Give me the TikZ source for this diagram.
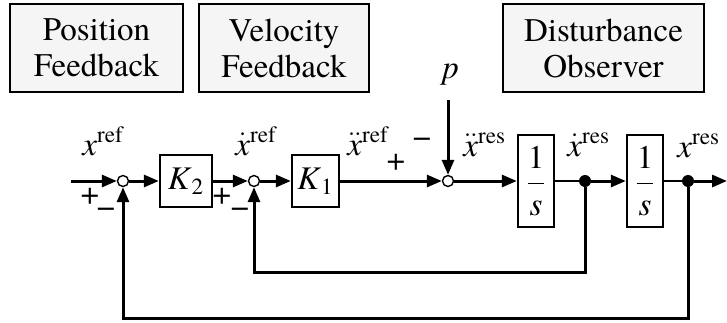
\documentclass[tikz,border=0pt]{standalone}
\usepackage{fontspec}
\setmainfont{texgyretermes}[Extension=.otf, UprightFont=*-regular, ItalicFont=*-italic, BoldFont=*-bold, BoldItalicFont=*-bolditalic]
\usetikzlibrary{arrows.meta}
\newcommand{\vel}{$\dot{\mbox{\textit{x}}}$}
\newcommand{\acel}{$\ddot{\mbox{\textit{x}}}$}
\begin{document}
\begin{tikzpicture}[x=0.5pt, y=-0.5pt,
    every node/.style={font=\fontsize{16.5}{18}\selectfont},
    caja/.style={draw, line width=0.6pt, fill=gray!8, minimum height=44pt, align=center},
    bloque/.style={draw, line width=1.2pt, fill=white, inner sep=0pt},
    suma/.style={circle, draw, line width=0.7pt, fill=white, inner sep=0pt, minimum size=5.5pt},
    nodo/.style={circle, fill=black, inner sep=0pt, minimum size=6pt},
    senal/.style={line width=1.5pt, -{Triangle[length=7.5pt,width=6pt]}},
    linea/.style={line width=1.1pt},
    etiqueta/.style={anchor=base west, inner sep=0pt},
    signo/.style={inner sep=0pt}
]
\useasboundingbox (0,0) rectangle (727,322);

% bloques superiores
\node[caja, minimum width=86.5pt] (posfb) at (96.5,48) {Position\\Feedback};
\node[caja, minimum width=85pt] (velfb) at (284,48) {Velocity\\Feedback};
\node[caja, minimum width=100.5pt] (dob) at (603.5,48) {Disturbance\\Observer};

% lazo principal
\coordinate (entrada) at (71,181);
\node[suma] (s1) at (123,181) {};
\node[bloque, minimum width=26pt, minimum height=26pt] (k2) at (186,181) {\textit{K}\textsubscript{2}};
\node[suma] (s2) at (254,181) {};
\node[bloque, minimum width=23.5pt, minimum height=26pt] (k1) at (315.5,181) {\textit{K}\textsubscript{1}};
\node[suma] (s3) at (448,181) {};
\node[bloque, minimum width=18pt, minimum height=46pt] (int1) at (536,181) {$\displaystyle\frac{\mbox{1}}{\mbox{\textit{s}}}$};
\node[nodo] (d1) at (585,181) {};
\node[bloque, minimum width=18pt, minimum height=46pt] (int2) at (645,181) {$\displaystyle\frac{\mbox{1}}{\mbox{\textit{s}}}$};
\node[nodo] (d2) at (688,181) {};
\coordinate (salida) at (727,181);
\coordinate (pert) at (448,100);

\draw[senal] (entrada) -- (s1);
\draw[senal] (s1) -- (k2);
\draw[senal] (k2) -- (s2);
\draw[senal] (s2) -- (k1);
\draw[senal] (k1) -- (s3);
\draw[senal] (pert) -- (s3);
\draw[senal] (s3) -- (int1);
\draw[linea] (int1) -- (d1);
\draw[senal] (d1) -- (int2);
\draw[linea] (int2) -- (d2);
\draw[senal] (d2) -- (salida);

% realimentaciones
\draw[senal] (d1) -- ++(0,91) -| (s2);
\draw[senal] (d2) -- ++(0,137) -| (s1);

% etiquetas
\node[etiqueta] (lxref) at (82,155) {\textit{x}\textsuperscript{ref}};
\node[etiqueta] (lvref) at (235,155) {\vel\textsuperscript{ref}};
\node[etiqueta] (laref) at (347,155) {\acel\textsuperscript{ref}};
\node[etiqueta] (lares) at (463,156) {\acel\textsuperscript{res}};
\node[etiqueta] (lvres) at (567,156) {\vel\textsuperscript{res}};
\node[etiqueta] (lxres) at (677,157) {\textit{x}\textsuperscript{res}};
\node[etiqueta] (lp) at (442,78) {\textit{p}};

% signos
\node[signo] at (90,196) {+};
\node[signo] at (106,213) {−};
\node[signo] at (222,196) {+};
\node[signo] at (240,213) {−};
\node[signo] at (396,162) {+};
\node[signo] at (422,143) {−};
\end{tikzpicture}
\end{document}
